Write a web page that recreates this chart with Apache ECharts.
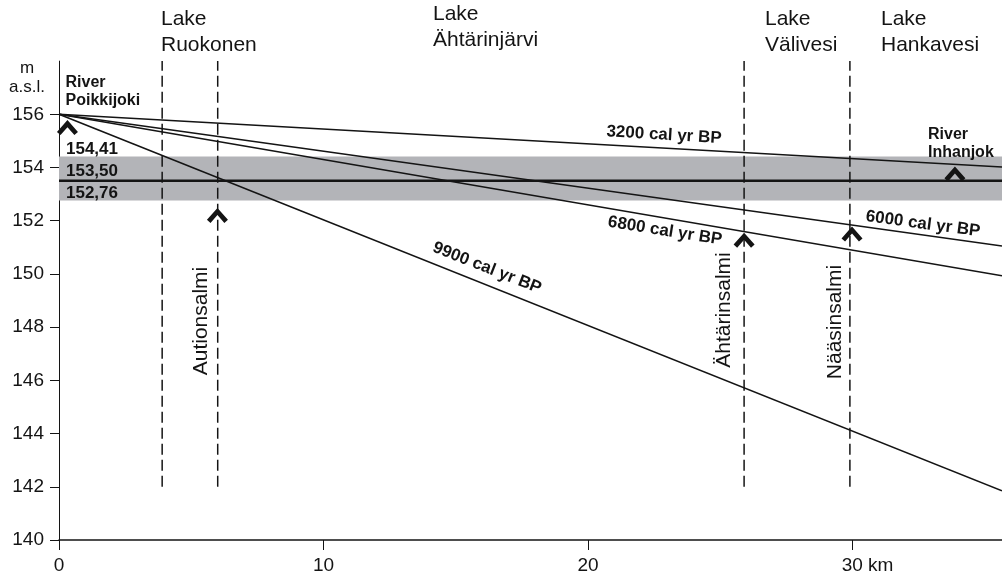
<!DOCTYPE html>
<html>
<head>
<meta charset="utf-8">
<script src="https://cdn.jsdelivr.net/npm/echarts@6/dist/echarts.min.js"></script>
<style>html,body{margin:0;padding:0;background:#fff}#c{width:1002px;height:583px}</style>
</head>
<body>
<div id="c"></div>
<script>
// ---- data ----
const xMaxKm = 35.65;
const shorelineNames = ['3200 cal yr BP', '6000 cal yr BP', '6800 cal yr BP', '9900 cal yr BP'];
const shorelineStartM = [156, 156, 156, 156];          // at 0 km
const shorelineEndM = [154.02, 151.05, 149.93, 141.85]; // at right edge (xMaxKm)
const levelLow = 152.76, levelMid = 153.50, levelHigh = 154.41;
const levelLabels = ['154,41', '153,50', '152,76'];
const boundaryKm = [3.9, 6.0, 25.9, 29.9];
const boundaryRangeM = [142, 158];
const outletPoints = [[0.32, 155.5], [5.99, 152.2], [25.9, 151.27], [29.98, 151.5], [33.87, 153.76]];
const xTicks = [0, 10, 20, 30];
const yTicks = [140, 142, 144, 146, 148, 150, 152, 154, 156];

const INK = '#141414';
const FONT = "'Liberation Sans', Arial, Helvetica, sans-serif";
const chevron = 'path://M0,11.5 L10,0 L20,11.5 L16.6,14.5 L10,6.8 L3.4,14.5 Z';

const series = [];
// gray band + mid level line
series.push({
  type: 'line', silent: true, symbol: 'none', z: 3,
  data: [[0, levelMid], [xMaxKm, levelMid]],
  lineStyle: { color: INK, width: 2.5 },
  markArea: { silent: true, itemStyle: { color: '#b3b4b8' }, data: [[{ xAxis: 0, yAxis: levelLow }, { xAxis: xMaxKm, yAxis: levelHigh }]] }
});
shorelineNames.forEach((n, i) => {
  series.push({
    name: n, type: 'line', silent: true, symbol: 'none', z: 4,
    data: [[0, shorelineStartM[i]], [xMaxKm, shorelineEndM[i]]],
    lineStyle: { color: INK, width: 1.6 }
  });
});
boundaryKm.forEach(k => {
  series.push({
    type: 'line', silent: true, symbol: 'none', z: 5,
    data: [[k, boundaryRangeM[0]], [k, boundaryRangeM[1]]],
    lineStyle: { color: INK, width: 1.5, type: [11, 5] }
  });
});
series.push({
  type: 'scatter', silent: true, z: 6, symbol: chevron, symbolSize: [21, 15],
  itemStyle: { color: INK, opacity: 1 }, data: outletPoints
});

function txt(x, y, text, opt) {
  opt = opt || {};
  return {
    type: 'text', x: x, y: y, rotation: opt.rot || 0, z: 20, silent: true,
    style: {
      text: text, fill: INK,
      font: (opt.weight || 'normal') + ' ' + (opt.size || 21) + 'px ' + FONT,
      align: opt.align || 'left', textAlign: opt.align || 'left',
      verticalAlign: opt.va || 'top', textVerticalAlign: opt.va || 'top',
      lineHeight: opt.lh || 26
    }
  };
}
const deg = Math.PI / 180;
const graphics = [
  txt(161, 6.5, 'Lake\nRuokonen'),
  txt(433, 1.5, 'Lake\nÄhtärinjärvi'),
  txt(765, 6.5, 'Lake\nVälivesi'),
  txt(881, 6.5, 'Lake\nHankavesi'),
  txt(27, 58.5, 'm\na.s.l.', { size: 17, align: 'center', lh: 19 }),
  txt(65.5, 73, 'River\nPoikkijoki', { size: 16, weight: 'bold', lh: 18.5 }),
  txt(928, 126, 'River\nInhanjok', { size: 16, weight: 'bold', lh: 17.5 }),
  txt(66, 149, levelLabels[0], { size: 17, weight: 'bold', va: 'middle' }),
  txt(66, 171, levelLabels[1], { size: 17, weight: 'bold', va: 'middle' }),
  txt(66, 193.5, levelLabels[2], { size: 17, weight: 'bold', va: 'middle' }),
  txt(664, 135, shorelineNames[0], { size: 17, weight: 'bold', align: 'center', va: 'middle', rot: -3.5 * deg }),
  txt(923, 224, shorelineNames[1], { size: 17, weight: 'bold', align: 'center', va: 'middle', rot: -7.5 * deg }),
  txt(665, 231, shorelineNames[2], { size: 17, weight: 'bold', align: 'center', va: 'middle', rot: -9 * deg }),
  txt(487, 268, shorelineNames[3], { size: 17, weight: 'bold', align: 'center', va: 'middle', rot: -21.5 * deg }),
  txt(201, 321, 'Autionsalmi', { size: 21, align: 'center', va: 'middle', rot: 90 * deg }),
  txt(724, 310, 'Ähtärinsalmi', { size: 21, align: 'center', va: 'middle', rot: 90 * deg }),
  txt(835, 322, 'Nääsinsalmi', { size: 21, align: 'center', va: 'middle', rot: 90 * deg })
];

const chart = echarts.init(document.getElementById('c'), null, { renderer: 'canvas' });
chart.setOption({
  animation: false,
  backgroundColor: '#fff',
  grid: { left: 59, right: 0, top: 61.1, bottom: 43, outerBoundsMode: 'none', containLabel: false },
  xAxis: {
    type: 'value', min: 0, max: xMaxKm,
    splitLine: { show: false },
    axisLine: { lineStyle: { color: INK, width: 1.5 } },
    axisTick: { show: true, length: 10, customValues: xTicks, lineStyle: { color: INK, width: 1 } },
    axisLabel: {
      customValues: xTicks, margin: 16, color: INK, fontSize: 19, fontFamily: FONT,
      formatter: v => v === 30 ? '{p|}30 km' : String(v),
      rich: { p: { width: 30 } }
    }
  },
  yAxis: {
    type: 'value', min: 140, max: 158,
    splitLine: { show: false },
    axisLine: { show: true, lineStyle: { color: INK, width: 1 } },
    axisTick: { show: true, length: 9, customValues: yTicks, lineStyle: { color: INK, width: 1 } },
    axisLabel: { customValues: yTicks, margin: 15, color: INK, fontSize: 19, fontFamily: FONT }
  },
  series: series,
  graphic: graphics
});
</script>
</body>
</html>
